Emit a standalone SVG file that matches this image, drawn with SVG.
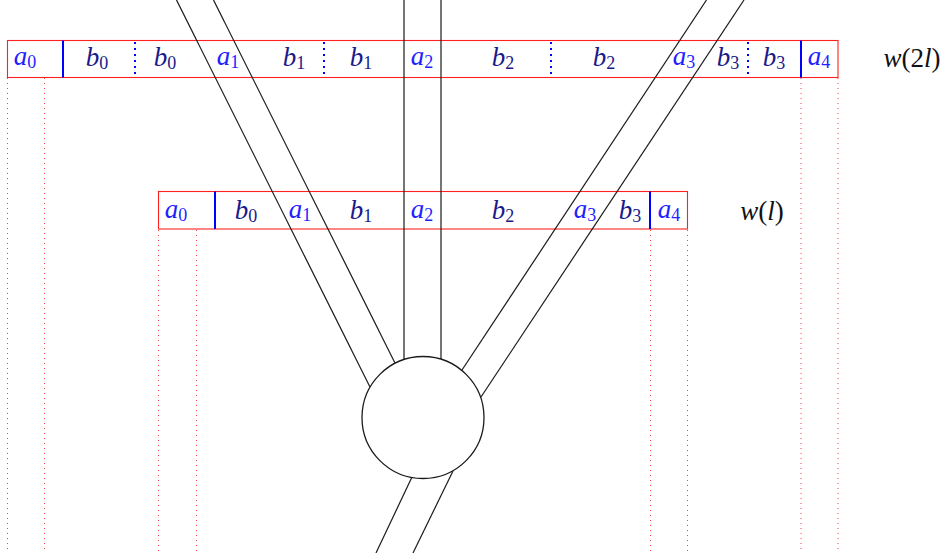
<svg xmlns="http://www.w3.org/2000/svg" width="952" height="553" viewBox="0 0 952 553">
<style>
.box{fill:none;stroke:#ff2020;stroke-width:1.1}
.guide{stroke:#ff4040;stroke-width:1;stroke-dasharray:1 4;fill:none}
.sep{stroke:#0000ff;stroke-width:2}
.sepd{stroke:#0000ff;stroke-width:2;stroke-dasharray:2 4}
.ln{stroke:#1a1a1a;stroke-width:1.2;fill:none}
text{font-family:"Liberation Serif","DejaVu Serif",serif;font-size:27px;font-style:italic;text-anchor:middle}
.a{fill:#1f1fff}
.b{fill:#1a1a8a}
.w{fill:#111}
.s{font-style:normal;font-size:18px}
.u{font-style:normal}
</style>
<g id="guides">
<line class="guide" x1="7.5" y1="78" x2="7.5" y2="553"/>
<line class="guide" x1="44.5" y1="78" x2="44.5" y2="553"/>
<line class="guide" x1="801" y1="78" x2="801" y2="553"/>
<line class="guide" x1="838" y1="78" x2="838" y2="553"/>
<line class="guide" x1="158.5" y1="230" x2="158.5" y2="553"/>
<line class="guide" x1="196.5" y1="230" x2="196.5" y2="553"/>
<line class="guide" x1="650.5" y1="230" x2="650.5" y2="553"/>
<line class="guide" x1="687.5" y1="230" x2="687.5" y2="553"/>
</g>
<g id="word-2l">
<rect class="box" x="7.5" y="40.5" width="830.5" height="37"/>
<line class="sep" x1="63" y1="40.5" x2="63" y2="77.5"/>
<line class="sepd" x1="135" y1="42" x2="135" y2="77.5"/>
<line class="sepd" x1="324" y1="42" x2="324" y2="77.5"/>
<line class="sepd" x1="551" y1="42" x2="551" y2="77.5"/>
<line class="sepd" x1="748" y1="42" x2="748" y2="77.5"/>
<line class="sep" x1="801" y1="40.5" x2="801" y2="77.5"/>
<text class="a" x="25" y="65">a<tspan class="s" dy="3">0</tspan></text>
<text class="b" x="97" y="66">b<tspan class="s" dy="3">0</tspan></text>
<text class="b" x="165" y="66">b<tspan class="s" dy="3">0</tspan></text>
<text class="a" x="228" y="65">a<tspan class="s" dy="3">1</tspan></text>
<text class="b" x="294" y="66">b<tspan class="s" dy="3">1</tspan></text>
<text class="b" x="361" y="66">b<tspan class="s" dy="3">1</tspan></text>
<text class="a" x="422" y="65">a<tspan class="s" dy="3">2</tspan></text>
<text class="b" x="503" y="66">b<tspan class="s" dy="3">2</tspan></text>
<text class="b" x="604" y="66">b<tspan class="s" dy="3">2</tspan></text>
<text class="a" x="684" y="65">a<tspan class="s" dy="3">3</tspan></text>
<text class="b" x="728" y="66">b<tspan class="s" dy="3">3</tspan></text>
<text class="b" x="774" y="66">b<tspan class="s" dy="3">3</tspan></text>
<text class="a" x="819" y="65">a<tspan class="s" dy="3">4</tspan></text>
<text class="w" x="912" y="67">w<tspan class="u">(2</tspan>l<tspan class="u">)</tspan></text>
</g>
<g id="word-l">
<rect class="box" x="158.5" y="191.5" width="529" height="37.5"/>
<line class="sep" x1="215" y1="191.5" x2="215" y2="229"/>
<line class="sep" x1="650" y1="191.5" x2="650" y2="229"/>
<text class="a" x="176" y="218">a<tspan class="s" dy="3">0</tspan></text>
<text class="b" x="246" y="219">b<tspan class="s" dy="3">0</tspan></text>
<text class="a" x="300" y="218">a<tspan class="s" dy="3">1</tspan></text>
<text class="b" x="361" y="219">b<tspan class="s" dy="3">1</tspan></text>
<text class="a" x="422" y="218">a<tspan class="s" dy="3">2</tspan></text>
<text class="b" x="503" y="219">b<tspan class="s" dy="3">2</tspan></text>
<text class="a" x="585" y="218">a<tspan class="s" dy="3">3</tspan></text>
<text class="b" x="630" y="219">b<tspan class="s" dy="3">3</tspan></text>
<text class="a" x="669" y="218">a<tspan class="s" dy="3">4</tspan></text>
<text class="w" x="762" y="220">w<tspan class="u">(</tspan>l<tspan class="u">)</tspan></text>
</g>
<g id="connectors">
<line class="ln" x1="176.5" y1="0" x2="370" y2="387"/>
<line class="ln" x1="213.5" y1="0" x2="395" y2="363"/>
<line class="ln" x1="404" y1="0" x2="404" y2="359.5"/>
<line class="ln" x1="441" y1="0" x2="441" y2="359.5"/>
<line class="ln" x1="706.5" y1="0" x2="462" y2="370"/>
<line class="ln" x1="744" y1="0" x2="481" y2="397"/>
<line class="ln" x1="412" y1="477" x2="376" y2="553"/>
<line class="ln" x1="453" y1="471" x2="413" y2="553"/>
</g>
<g id="vertex">
<circle cx="423" cy="417.5" r="61" fill="#fff" stroke="#1a1a1a" stroke-width="1.3"/>
</g>
</svg>
